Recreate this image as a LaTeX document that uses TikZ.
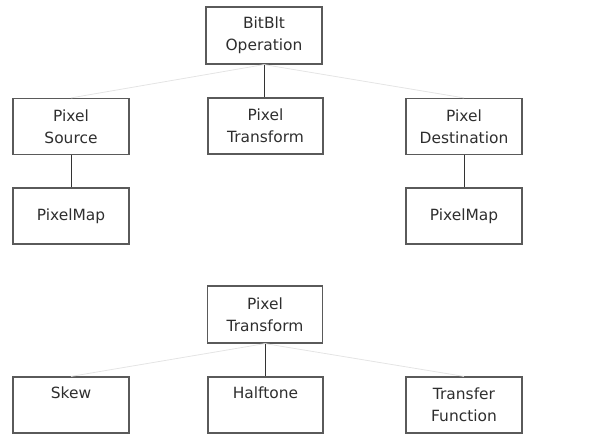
\documentclass[tikz,border=0pt]{standalone}
\usepackage{fontspec}
\setmainfont{DejaVu Sans}
\definecolor{txt}{HTML}{2E2E2E}
\definecolor{edge}{HTML}{5A5A5A}
\definecolor{conn}{HTML}{333333}
\definecolor{faint}{HTML}{E4E4E4}
\begin{document}
\begin{tikzpicture}[x=1bp,y=-1bp,
  box/.style={draw=edge, line width=1.2bp, minimum width=116bp, minimum height=56bp,
    inner sep=0pt, align=center, text=txt,
    font=\fontsize{15.5}{21.8}\selectfont},
  tree/.style={draw=conn, line width=0.9bp},
  faintline/.style={draw=faint, line width=0.8bp}]
\useasboundingbox (0,0) rectangle (589,434);
% upper diagram
\node[box, minimum height=57bp] (bitblt) at (264,35.5) {BitBlt\\Operation};
\node[box] (src) at (71,126.5) {Pixel\\Source};
\node[box, minimum width=115bp] (ptr) at (265.5,126) {Pixel\\Transform};
\node[box] (dst) at (464,126.5) {Pixel\\Destination};
\node[box] (pmL) at (71,216) {PixelMap};
\node[box] (pmR) at (464,216) {PixelMap};
\draw[faintline] (bitblt.south) -- (src.north);
\draw[faintline] (bitblt.south) -- (dst.north);
\draw[tree] (bitblt.south) -- (bitblt.south |- ptr.north);
\draw[tree] (src.south) -- (pmL.north);
\draw[tree] (dst.south) -- (pmR.north);
% lower diagram
\node[box, minimum width=115bp, minimum height=57bp] (ptr2) at (265,314.5) {Pixel\\Transform};
\node[box] (skew) at (71,405) {Skew\\\phantom{Xy}};
\node[box, minimum width=115bp] (half) at (265.5,405) {Halftone\\\phantom{Xy}};
\node[box] (tf) at (464,405) {Transfer\\Function};
\draw[faintline] (ptr2.south) -- (skew.north);
\draw[faintline] (ptr2.south) -- (tf.north);
\draw[tree] (ptr2.south) -- (ptr2.south |- half.north);
\end{tikzpicture}
\end{document}
